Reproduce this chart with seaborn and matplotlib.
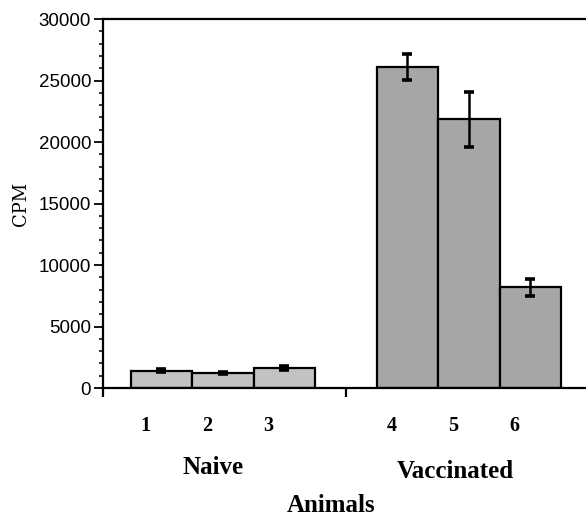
import numpy as np
import pandas as pd
import matplotlib
matplotlib.use('Agg')
import matplotlib.pyplot as plt
import matplotlib.transforms as mtransforms
from matplotlib.ticker import MultipleLocator, FixedLocator
import seaborn as sns

# Data
animals = ['1', '2', '3', '4', '5', '6']
groups = ['Naive', 'Naive', 'Naive', 'Vaccinated', 'Vaccinated', 'Vaccinated']
cpm = [1400, 1220, 1620, 26100, 21850, 8200]
cpm_err = [110, 100, 150, 1070, 2230, 690]
group_names = ['Naive', 'Vaccinated']

df = pd.DataFrame({'Animal': animals, 'Group': groups, 'CPM': cpm, 'Err': cpm_err})
# bar positions: one empty slot between the two groups
df['x'] = [0, 1, 2, 4, 5, 6]

sns.set_style('ticks', {'axes.edgecolor': 'black', 'text.color': 'black',
                        'xtick.color': 'black', 'ytick.color': 'black',
                        'axes.labelcolor': 'black'})
plt.rcParams['font.family'] = ['Liberation Sans', 'DejaVu Sans']

fig = plt.figure(figsize=(5.86, 5.17), dpi=100)
ax = fig.add_axes([103 / 586, 0.2495, 0.8868, 0.7137])

palette = {'Naive': '#c2c2c2', 'Vaccinated': '#a6a6a6'}
sns.barplot(data=df, x='x', y='CPM', hue='Group', palette=palette, native_scale=True,
            width=1.0, edgecolor='black', linewidth=1.6, errorbar=None,
            legend=False, ax=ax, saturation=1)
ax.errorbar(df['x'], df['CPM'], yerr=df['Err'], fmt='none', ecolor='black',
            elinewidth=1.8, capsize=3.5, capthick=2.6, zorder=5)

ax.set_xlim(-0.95, 7.5)
ax.set_ylim(0, 30000)

# spines: left, bottom and top, right side runs off the page
for s in ['left', 'bottom', 'top']:
    ax.spines[s].set_linewidth(1.6)
ax.spines['right'].set_visible(False)

ax.yaxis.set_major_locator(MultipleLocator(5000))
ax.yaxis.set_minor_locator(MultipleLocator(1000))
ax.tick_params(axis='y', which='major', length=6.5, width=1.3, labelsize=13.5, pad=2)
ax.tick_params(axis='y', which='minor', length=3, width=1.1)

ax.set_xticks(df['x'])
ax.set_xticklabels(animals, fontfamily='Liberation Serif', fontweight='bold', fontsize=14.5)
ax.xaxis.set_minor_locator(FixedLocator([-0.95, 3]))
ax.tick_params(axis='x', which='major', length=0, pad=20)
ax.tick_params(axis='x', which='minor', length=6.5, width=1.6)
shift = mtransforms.ScaledTranslation(-16 / 100, 0, fig.dpi_scale_trans)
for lab in ax.get_xticklabels():
    lab.set_transform(lab.get_transform() + shift)

ax.set_xlabel('')
ax.set_ylabel('CPM', fontfamily='DejaVu Serif', fontsize=13, labelpad=6)

# group names under the tick numbers
fig.text(213 / 586, 1 - 467 / 517, group_names[0], ha='center', va='center',
         fontfamily='Liberation Serif', fontweight='bold', fontsize=18)
fig.text(455 / 586, 1 - 472 / 517, group_names[1], ha='center', va='center',
         fontfamily='Liberation Serif', fontweight='bold', fontsize=18)
fig.text(331 / 586, 1 - 505 / 517, 'Animals', ha='center', va='center',
         fontfamily='Liberation Serif', fontweight='bold', fontsize=18)

fig.savefig('out.png', dpi=100)
